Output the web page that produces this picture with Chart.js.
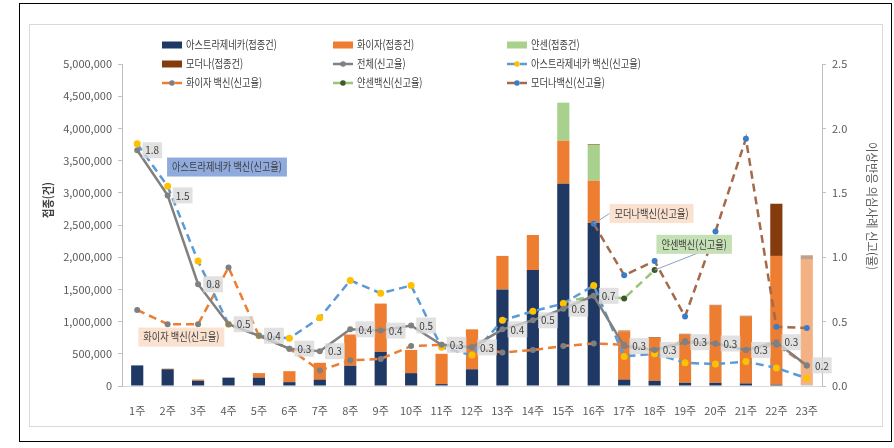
<!DOCTYPE html>
<html lang="ko">
<head>
<meta charset="utf-8">
<script src="https://cdn.jsdelivr.net/npm/chart.js@4.4.1/dist/chart.umd.min.js"></script>
<style>
  html, body { margin: 0; padding: 0; background: #fff; }
  #wrap { width: 894px; height: 448px; }
</style>
</head>
<body>
<div id="wrap"><canvas id="vaxChart" width="894" height="448"></canvas></div>
<script>
// 주차
const weeks = ['1주','2주','3주','4주','5주','6주','7주','8주','9주','10주','11주','12주',
  '13주','14주','15주','16주','17주','18주','19주','20주','21주','22주','23주'];

// 접종건 (누적막대)
const azDoses = [320000, 260000, 80000, 130000, 130000, 60000, 100000, 315000, 530000, 200000, 30000, 260000,
  1500000, 1800000, 3140000, 2530000, 100000, 80000, 50000, 50000, 40000, 20000, 20000];
const pfizerDoses = [0, 10000, 20000, 0, 70000, 170000, 260000, 485000, 750000, 360000, 470000, 620000,
  520000, 545000, 670000, 660000, 750000, 670000, 750000, 1200000, 1040000, 2000000, 1940000];
const janssenDoses = [0, 0, 0, 0, 0, 0, 0, 0, 0, 0, 0, 0, 0, 0, 590000, 555000, 0, 0, 0, 0, 0, 0, 0];
const modernaDoses = [0, 0, 0, 0, 0, 0, 0, 0, 0, 0, 0, 0, 0, 0, 0, 10000, 10000, 10000, 10000, 10000, 10000, 810000, 70000];

// 신고율 (꺾은선, 오른쪽 축)
const totalRate = [1.83, 1.48, 0.79, 0.48, 0.39, 0.29, 0.27, 0.44, 0.43, 0.47, 0.32, 0.30,
  0.44, 0.51, 0.60, 0.70, 0.31, 0.28, 0.34, 0.33, 0.28, 0.34, 0.16];
const azRate = [1.88, 1.55, 0.97, 0.48, 0.39, 0.37, 0.53, 0.82, 0.72, 0.78, 0.30, 0.24,
  0.51, 0.58, 0.64, 0.78, 0.23, 0.25, 0.18, 0.17, 0.19, 0.14, 0.06];
const pfizerRate = [0.59, 0.48, 0.48, 0.92, 0.39, 0.29, 0.12, 0.20, 0.21, 0.31, 0.32, 0.30,
  0.26, 0.28, 0.31, 0.33, 0.32, 0.28, 0.35, 0.33, 0.28, 0.32, 0.16];
const janssenRate = [null, null, null, null, null, null, null, null, null, null, null, null,
  null, null, 0.65, 0.70, 0.68, 0.90, null, null, null, null, null];
const modernaRate = [null, null, null, null, null, null, null, null, null, null, null, null,
  null, null, null, 1.26, 0.86, 0.97, 0.54, 1.20, 1.92, 0.46, 0.45];

const leftTicks = { min: 0, max: 5000000, step: 500000 };
const rightTicks = { min: 0, max: 2.5, step: 0.5 };

const FONT = "'Noto Sans CJK KR', 'Noto Sans', sans-serif";

// last week is drawn faded
function weekColors(base, faded) {
  return weeks.map((w, i) => i === weeks.length - 1 ? faded : base);
}

// narrow text like the original font
function squeezeText(ctx, text, x, y, sx) {
  ctx.save();
  ctx.translate(x, y);
  ctx.scale(sx, 1);
  ctx.fillText(text, 0, 0);
  ctx.restore();
}

// callout boxes: position in category index / right axis value
const callouts = [
  { text: '아스트라제네카 백신(신고율)', at: 2.95, value: 1.70, bg: '#8FAADC' },
  { text: '화이자 백신(신고율)', at: 1.45, value: 0.38, bg: '#FBE1D0' },
  { text: '모더나백신(신고율)', at: 16.9, value: 1.34, bg: '#FBE1D0', lead: { ds: 8, idx: 15, side: 'left' } },
  { text: '얀센백신(신고율)', at: 18.3, value: 1.10, bg: '#C5E0B4', lead: { ds: 7, idx: 17, side: 'bottom' } }
];

const framePlugin = {
  id: 'frame',
  beforeDraw(chart) {
    const ctx = chart.ctx;
    ctx.save();
    ctx.fillStyle = '#fff';
    ctx.fillRect(0, 0, chart.width, chart.height);
    ctx.strokeStyle = '#000';
    ctx.lineWidth = 1;
    ctx.strokeRect(19.5, 3.5, 872, 438);
    ctx.strokeStyle = '#d9d9d9';
    ctx.strokeRect(29.5, 24.5, 853, 402);
    ctx.restore();
  },
  afterDraw(chart) {
    const ctx = chart.ctx;
    ctx.save();
    ctx.fillStyle = '#404040';
    ctx.textAlign = 'center';
    ctx.textBaseline = 'middle';
    // left title
    ctx.font = 'bold 12px ' + FONT;
    ctx.save();
    ctx.translate(48, 200);
    ctx.rotate(-Math.PI / 2);
    squeezeText(ctx, '접종(건)', 0, 0, 0.85);
    ctx.restore();
    // right title
    ctx.fillStyle = '#595959';
    ctx.font = '12px ' + FONT;
    ctx.save();
    ctx.translate(872, 206);
    ctx.rotate(Math.PI / 2);
    squeezeText(ctx, '이상반응 의심사례 신고(율)', 0, 0, 0.95);
    ctx.restore();
    ctx.restore();
  }
};

const legendPlugin = {
  id: 'gridLegend',
  afterDraw(chart) {
    const ctx = chart.ctx;
    const colX = [162, 333, 507];
    const rowY = [45, 64, 83];
    ctx.save();
    ctx.font = '11.5px ' + FONT;
    ctx.textBaseline = 'middle';
    ctx.textAlign = 'left';
    chart.data.datasets.forEach((ds, i) => {
      const x = colX[i % 3], y = rowY[Math.floor(i / 3)];
      if (ds.type === 'bar') {
        ctx.fillStyle = ds.legendColor;
        ctx.fillRect(x, y - 3.5, 20, 7);
      } else {
        ctx.strokeStyle = ds.borderColor;
        ctx.lineWidth = 2.5;
        ctx.setLineDash(ds.borderDash || []);
        ctx.beginPath();
        ctx.moveTo(x, y);
        ctx.lineTo(x + 20, y);
        ctx.stroke();
        ctx.setLineDash([]);
        ctx.fillStyle = ds.pointBackgroundColor;
        ctx.beginPath();
        ctx.arc(x + 10, y, 2.8, 0, Math.PI * 2);
        ctx.fill();
      }
      ctx.fillStyle = '#404040';
      squeezeText(ctx, ds.label, x + 24, y, 0.8);
    });
    ctx.restore();
  }
};

const labelPlugin = {
  id: 'rateLabels',
  afterDatasetsDraw(chart) {
    const ctx = chart.ctx;
    const xs = chart.scales.x, y1 = chart.scales.y1;
    ctx.save();
    ctx.textBaseline = 'middle';
    ctx.textAlign = 'left';

    // total data labels
    ctx.font = '11px ' + FONT;
    const meta = chart.getDatasetMeta(4);
    meta.data.forEach((pt, i) => {
      const txt = totalRate[i].toFixed(1);
      const w = ctx.measureText(txt).width * 0.9 + 6;
      const cx = pt.x + 15;
      ctx.fillStyle = 'rgba(217,217,217,0.8)';
      ctx.fillRect(cx - w / 2, pt.y - 8, w, 16);
      ctx.fillStyle = '#404040';
      squeezeText(ctx, txt, cx - w / 2 + 3, pt.y, 0.9);
    });

    // callouts
    const step = xs.getPixelForValue(1) - xs.getPixelForValue(0);
    ctx.font = '11.5px ' + FONT;
    callouts.forEach(c => {
      const cx = xs.getPixelForValue(0) + c.at * step;
      const cy = y1.getPixelForValue(c.value);
      const w = ctx.measureText(c.text).width * 0.8 + 10;
      const h = 19;
      if (c.lead) {
        const p = chart.getDatasetMeta(c.lead.ds).data[c.lead.idx];
        ctx.strokeStyle = '#8EA2BD';
        ctx.lineWidth = 1;
        ctx.beginPath();
        ctx.moveTo(p.x, p.y);
        if (c.lead.side === 'left') ctx.lineTo(cx - w / 2, cy);
        else ctx.lineTo(cx + 12, cy + h / 2 - 4);
        ctx.stroke();
      }
      ctx.fillStyle = c.bg;
      ctx.fillRect(cx - w / 2, cy - h / 2, w, h);
      ctx.fillStyle = '#404040';
      squeezeText(ctx, c.text, cx - w / 2 + 5, cy, 0.8);
    });
    ctx.restore();
  }
};

Chart.defaults.font.family = FONT;
Chart.defaults.font.size = 11;
Chart.defaults.color = '#595959';

const ctx = document.getElementById('vaxChart').getContext('2d');
const dash = [8, 5];
const vaxChart = new Chart(ctx, {
  data: {
    labels: weeks,
    datasets: [
      { type: 'bar', label: '아스트라제네카(접종건)', data: azDoses, yAxisID: 'y', order: 10,
        backgroundColor: weekColors('#1F3864', 'rgba(31,56,100,0.3)'), legendColor: '#1F3864' },
      { type: 'bar', label: '화이자(접종건)', data: pfizerDoses, yAxisID: 'y', order: 10,
        backgroundColor: weekColors('#ED7D31', '#F4B183'), legendColor: '#ED7D31' },
      { type: 'bar', label: '얀센(접종건)', data: janssenDoses, yAxisID: 'y', order: 10,
        backgroundColor: weekColors('#A9D18E', '#D5E8C8'), legendColor: '#A9D18E' },
      { type: 'bar', label: '모더나(접종건)', data: modernaDoses, yAxisID: 'y', order: 10,
        backgroundColor: weekColors('#843C0C', '#C2A08A'), legendColor: '#843C0C' },
      { type: 'line', label: '전체(신고율)', data: totalRate, yAxisID: 'y1', order: 1,
        borderColor: '#808080', borderWidth: 2.5, pointBackgroundColor: '#808080', pointBorderWidth: 0, pointRadius: 3 },
      { type: 'line', label: '아스트라제네카 백신(신고율)', data: azRate, yAxisID: 'y1', order: 2,
        borderColor: '#5B9BD5', borderWidth: 2.5, borderDash: dash, pointBackgroundColor: '#FFC000', pointBorderWidth: 0, pointRadius: 3.5 },
      { type: 'line', label: '화이자 백신(신고율)', data: pfizerRate, yAxisID: 'y1', order: 3,
        borderColor: '#ED7D31', borderWidth: 2.5, borderDash: dash, pointBackgroundColor: '#7F7F7F', pointBorderWidth: 0, pointRadius: 3 },
      { type: 'line', label: '얀센백신(신고율)', data: janssenRate, yAxisID: 'y1', order: 4,
        borderColor: '#9BC47A', borderWidth: 2.5, borderDash: dash, pointBackgroundColor: '#3B5A2B', pointBorderWidth: 0, pointRadius: 3 },
      { type: 'line', label: '모더나백신(신고율)', data: modernaRate, yAxisID: 'y1', order: 5,
        borderColor: '#A5694A', borderWidth: 2.5, borderDash: dash, pointBackgroundColor: '#3A7CC8', pointBorderWidth: 0, pointRadius: 3 }
    ]
  },
  options: {
    responsive: false,
    animation: false,
    layout: { padding: { left: 30, right: 11, top: 64, bottom: 22 } },
    datasets: { bar: { barPercentage: 0.4, categoryPercentage: 1 }, line: { tension: 0, spanGaps: false } },
    plugins: { legend: { display: false }, tooltip: { enabled: false } },
    scales: {
      x: {
        stacked: true,
        grid: { display: false },
        border: { color: '#d9d9d9' },
        ticks: { padding: 10, maxRotation: 0, autoSkip: false },
        afterFit(s) { s.height = 40; }
      },
      y: {
        stacked: true,
        position: 'left',
        min: leftTicks.min, max: leftTicks.max,
        ticks: { stepSize: leftTicks.step, padding: 6, callback: v => v.toLocaleString('en-US') },
        grid: { drawOnChartArea: false, tickLength: 4, color: '#bfbfbf' },
        border: { color: '#bfbfbf' },
        afterFit(s) { s.width = 92; }
      },
      y1: {
        position: 'right',
        min: rightTicks.min, max: rightTicks.max,
        ticks: { stepSize: rightTicks.step, padding: 6, callback: v => v.toFixed(1) },
        grid: { drawOnChartArea: false, tickLength: 4, color: '#bfbfbf' },
        border: { color: '#bfbfbf' },
        afterFit(s) { s.width = 61; }
      }
    }
  },
  plugins: [framePlugin, legendPlugin, labelPlugin]
});
</script>
</body>
</html>
